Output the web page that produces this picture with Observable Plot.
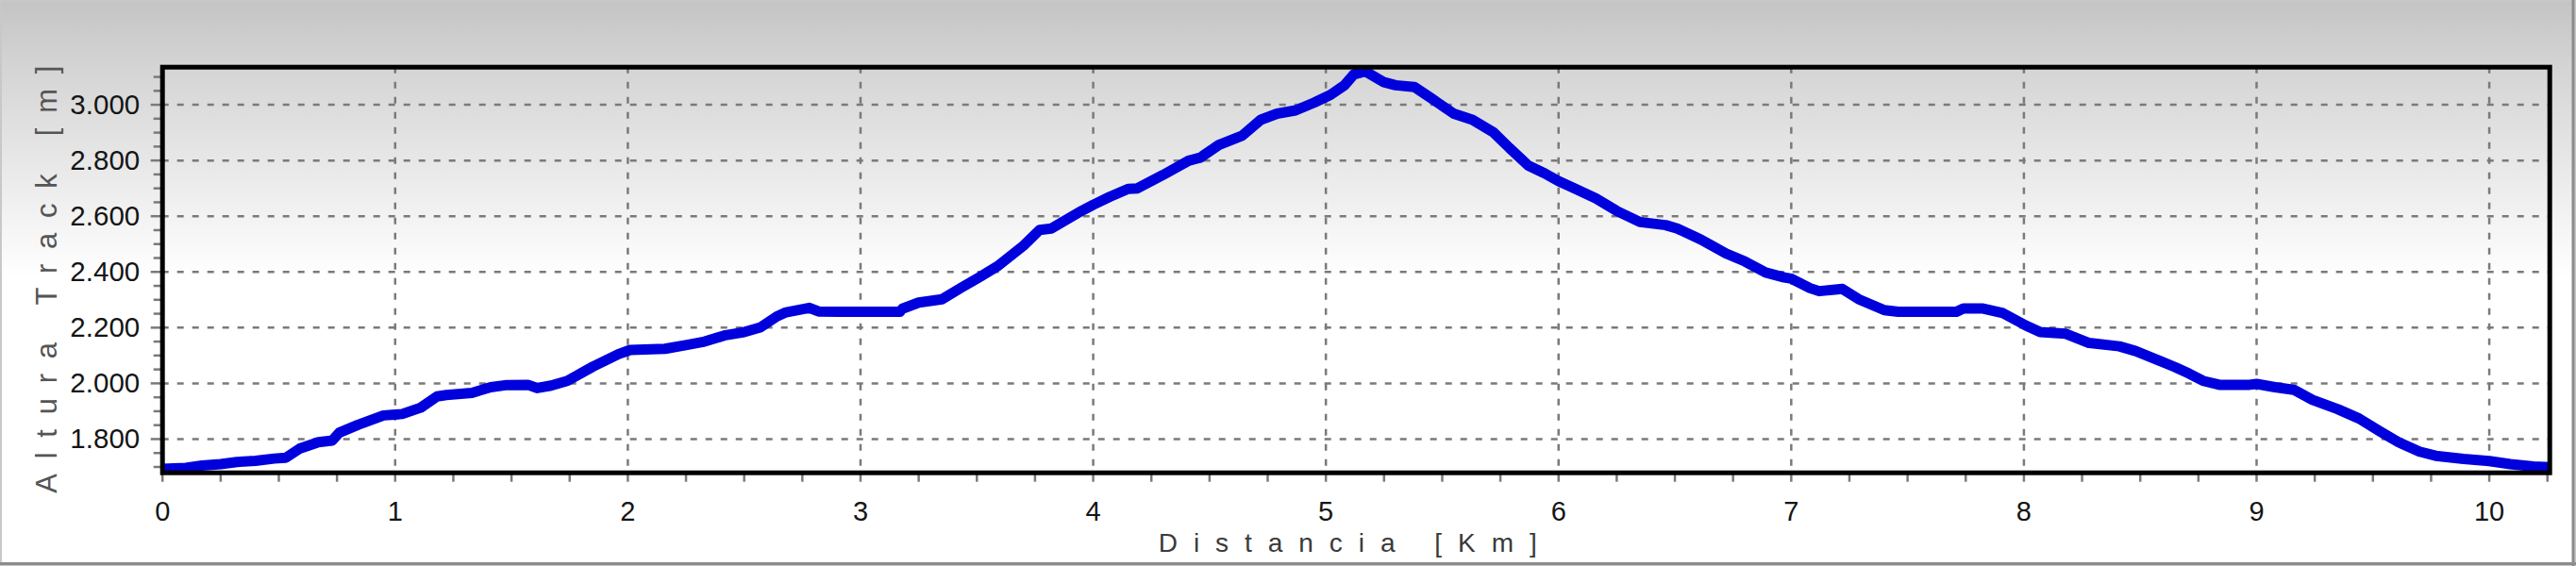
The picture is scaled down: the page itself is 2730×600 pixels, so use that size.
<!DOCTYPE html>
<html>
<head>
<meta charset="utf-8">
<script src="https://cdn.jsdelivr.net/npm/d3@7"></script>
<script src="https://cdn.jsdelivr.net/npm/@observablehq/plot@0.6"></script>
<style>
  html, body { margin: 0; padding: 0; overflow: hidden; background: #fff; }
  #chart svg { display: block; }
</style>
</head>
<body>
<div id="chart"></div>
<script>
// Track profile: distance (km) and elevation (m)
const distKm = [
  0.00, 0.10, 0.17, 0.25, 0.32, 0.40, 0.48, 0.53, 0.59, 0.67, 0.73, 0.76, 0.84, 0.95,
  1.00, 1.03, 1.11, 1.18, 1.22, 1.33, 1.41, 1.48, 1.57, 1.61, 1.67, 1.74, 1.85, 1.96,
  2.01, 2.16, 2.26, 2.33, 2.42, 2.50, 2.57, 2.64, 2.68, 2.78, 2.82, 2.91, 3.17, 3.18,
  3.25, 3.35, 3.43, 3.51, 3.59, 3.70, 3.77, 3.82, 3.95, 4.00, 4.07, 4.15, 4.19, 4.30,
  4.41, 4.46, 4.54, 4.64, 4.72, 4.79, 4.87, 4.95, 5.02, 5.08, 5.12, 5.17, 5.25, 5.30,
  5.38, 5.45, 5.55, 5.63, 5.72, 5.79, 5.87, 5.94, 6.00, 6.06, 6.16, 6.25, 6.35, 6.46,
  6.51, 6.61, 6.72, 6.80, 6.89, 6.97, 7.00, 7.08, 7.12, 7.22, 7.29, 7.40, 7.46, 7.71,
  7.74, 7.82, 7.91, 8.01, 8.07, 8.18, 8.28, 8.41, 8.48, 8.58, 8.65, 8.71, 8.77, 8.84,
  8.97, 9.00, 9.08, 9.16, 9.24, 9.35, 9.44, 9.53, 9.61, 9.70, 9.77, 9.89, 10.00, 10.09,
  10.19, 10.26
];
const elevM = [
  1693, 1697, 1705, 1710, 1718, 1722, 1730, 1733, 1766, 1789, 1795, 1823, 1851, 1885,
  1888, 1890, 1913, 1953, 1958, 1966, 1986, 1994, 1995, 1983, 1992, 2009, 2060, 2105,
  2120, 2124, 2139, 2150, 2173, 2184, 2201, 2240, 2255, 2271, 2258, 2257, 2257, 2268,
  2290, 2302, 2342, 2381, 2421, 2494, 2551, 2556, 2619, 2641, 2669, 2698, 2700, 2748,
  2799, 2810, 2856, 2889, 2946, 2968, 2980, 3008, 3036, 3070, 3109, 3120, 3081, 3070,
  3064, 3025, 2968, 2946, 2901, 2844, 2782, 2754, 2726, 2703, 2664, 2619, 2579, 2568,
  2556, 2517, 2466, 2438, 2398, 2380, 2376, 2342, 2331, 2339, 2302, 2263, 2257, 2257,
  2269, 2269, 2252, 2207, 2184, 2178, 2145, 2133, 2116, 2082, 2058, 2035, 2009, 1995,
  1995, 1998, 1986, 1977, 1941, 1907, 1874, 1828, 1789, 1755, 1740, 1729, 1721, 1710,
  1702, 1699
];

// Axes
const xDomain = [0, 10.26];
const yDomain = [1679, 3135];
const xMajorTicks = [0, 1, 2, 3, 4, 5, 6, 7, 8, 9, 10];
const xMinorTicks = [0.25, 0.5, 0.75, 1.25, 1.5, 1.75, 2.25, 2.5, 2.75, 3.25, 3.5, 3.75,
  4.25, 4.5, 4.75, 5.25, 5.5, 5.75, 6.25, 6.5, 6.75, 7.25, 7.5, 7.75, 8.25, 8.5, 8.75,
  9.25, 9.5, 9.75, 10.25];
const yMajorTicks = [1800, 2000, 2200, 2400, 2600, 2800, 3000];
const yMinorTicks = [1700, 1750, 1850, 1900, 1950, 2050, 2100, 2150, 2250, 2300, 2350,
  2450, 2500, 2550, 2650, 2700, 2750, 2850, 2900, 2950, 3050, 3100];
const yTitle = "Altura Track [m]";
const xTitle = "Distancia [Km]";

const data = distKm.map((d, i) => ({d, e: elevM[i]}));

const esLocale = d3.formatLocale({decimal: ",", thousands: ".", grouping: [3], currency: ["", "€"]});
const fmtY = esLocale.format(",d");

const gridStyle = {stroke: "#7a7a7a", strokeOpacity: 1, strokeWidth: 2.5, strokeDasharray: "7,9"};

const chart = Plot.plot({
  width: 2730,
  height: 600,
  marginLeft: 171.7,
  marginRight: 28.3,
  marginTop: 70.7,
  marginBottom: 99.3,
  style: {
    background: "linear-gradient(to bottom, #c4c4c4 0px, #d4d4d4 70px, #ffffff 295px, #ffffff 600px)",
    fontFamily: "'Liberation Sans', Arial, sans-serif",
    overflow: "visible"
  },
  x: {domain: xDomain},
  y: {domain: yDomain},
  marks: [
    Plot.gridY(yMajorTicks, gridStyle),
    Plot.gridX(xMajorTicks, gridStyle),
    Plot.axisY(yMinorTicks, {tickSize: 9, stroke: "#7a7a7a", strokeWidth: 2.5, tickFormat: () => "", label: null}),
    Plot.axisY(yMajorTicks, {tickSize: 12, tickPadding: 12, stroke: "#7a7a7a", strokeWidth: 2.5, fill: "#151515", fontSize: 29.5, tickFormat: fmtY, label: null}),
    Plot.axisX(xMinorTicks, {tickSize: 10, stroke: "#7a7a7a", strokeWidth: 2.5, tickFormat: () => "", label: null}),
    Plot.axisX(xMajorTicks, {tickSize: 10, tickPadding: 20, stroke: "#7a7a7a", strokeWidth: 2.5, fill: "#151515", fontSize: 29, tickFormat: d => String(d), label: null}),
    Plot.line(data, {x: "d", y: "e", stroke: "#0000dc", strokeWidth: 11, strokeLinejoin: "round", strokeLinecap: "butt"}),
    Plot.frame({stroke: "#000", strokeWidth: 5}),
    Plot.text([yTitle], {frameAnchor: "left", textAnchor: "middle", dx: -122, dy: 10, rotate: -90, text: d => d, fontSize: 31, fill: "#555555"}),
    Plot.text([xTitle], {frameAnchor: "bottom", textAnchor: "middle", dx: -9, dy: 75, text: d => d, fontSize: 28, fill: "#3a3a3a", lineAnchor: "middle"})
  ]
});

document.getElementById("chart").appendChild(chart);

// letter-spaced axis titles, fitted to the reference's spans
const svg = d3.select(chart);
const spans = new Map([[yTitle, 453], [xTitle, 401]]);
svg.selectAll("text").each(function() {
  const t = this.textContent;
  if (!spans.has(t)) return;
  this.style.letterSpacing = "0px";
  const len = this.getComputedTextLength();
  const n = t.length;
  const ls = Math.max(0, (spans.get(t) - len) / (n - 1));
  this.style.letterSpacing = ls + "px";
  // compensate trailing spacing so the text stays centred
  this.setAttribute("dx", (ls / 2).toFixed(1));
});

// outer window border
svg.append("rect").attr("x", 1).attr("y", 1).attr("width", 2728).attr("height", 598)
  .attr("fill", "none").attr("stroke", "#c8c8c8").attr("stroke-width", 2);
svg.append("line").attr("x1", 2727).attr("x2", 2727).attr("y1", 0).attr("y2", 600)
  .attr("stroke", "#8c8c8c").attr("stroke-width", 3);
svg.append("line").attr("x1", 0).attr("x2", 2730).attr("y1", 597.5).attr("y2", 597.5)
  .attr("stroke", "#8c8c8c").attr("stroke-width", 3);
</script>
</body>
</html>
